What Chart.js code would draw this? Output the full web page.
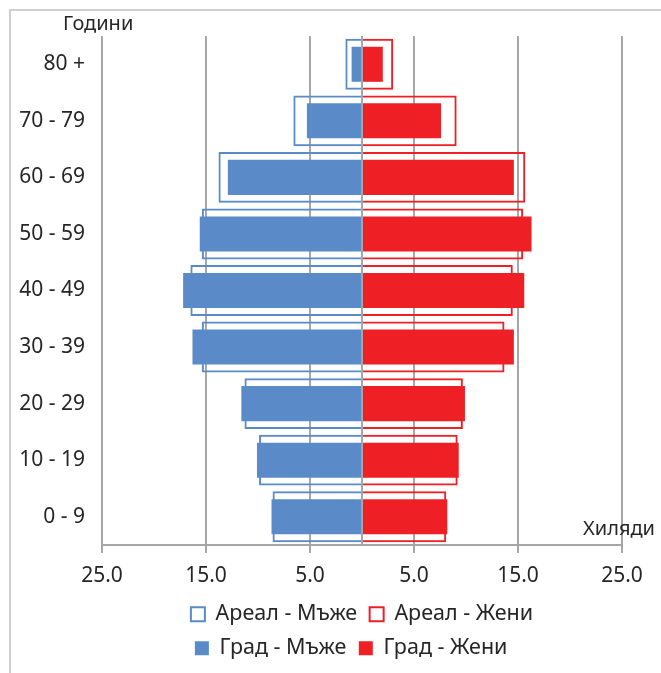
<!DOCTYPE html>
<html>
<head>
<meta charset="utf-8">
<script src="https://cdn.jsdelivr.net/npm/chart.js@4"></script>
<style>
html,body{margin:0;padding:0;background:#fff;overflow:hidden}
canvas{display:block}
</style>
</head>
<body>
<canvas id="c" width="661" height="673"></canvas>
<script>
// ---- data (thousands) ----
const ageGroups = ['80 +', '70 - 79', '60 - 69', '50 - 59', '40 - 49', '30 - 39', '20 - 29', '10 - 19', '0 - 9'];
const areaMen   = [1.6, 6.6, 13.8, 15.4, 16.5, 15.4, 11.3, 9.9, 8.6];
const areaWomen = [3.0, 9.1, 15.7, 15.5, 14.5, 13.7, 9.7, 9.2, 8.1];
const cityMen   = [1.0, 5.3, 12.9, 15.6, 17.2, 16.3, 11.6, 10.1, 8.7];
const cityWomen = [2.0, 7.6, 14.6, 16.3, 15.6, 14.6, 9.9, 9.3, 8.2];
const seriesNames = ['Ареал - Мъже', 'Ареал - Жени', 'Град - Мъже', 'Град - Жени'];
const xMin = -25, xMax = 25, xStep = 10;
const yAxisTitle = 'Години';
const xAxisTitle = 'Хиляди';

// ---- styles ----
const BLUE = '#5A8BC8';
const RED = '#EE1F25';
const GRID = '#A6A6A9';
const TEXT = '#262626';
const FONT = "'Noto Sans', 'DejaVu Sans', sans-serif";
Chart.defaults.font.family = FONT;
Chart.defaults.color = TEXT;

const neg = a => a.map(v => -v);

const extras = {
  id: 'extras',
  afterLayout(chart) {
    // align legend rows to a common left edge (column-like layout)
    const lg = chart.legend;
    if (lg && lg.lineWidths && lg.lineWidths.length > 1) {
      for (let i = 1; i < lg.lineWidths.length; i++) lg.lineWidths[i] = lg.lineWidths[0] - 8;
    }
  },
  beforeDraw(chart) {
    const ctx = chart.ctx;
    ctx.save();
    ctx.fillStyle = '#fff';
    ctx.fillRect(0, 0, chart.width, chart.height);
    ctx.strokeStyle = '#CFCFCF';
    ctx.lineWidth = 2;
    ctx.strokeRect(10, 10, chart.width + 20, chart.height + 20);
    ctx.restore();
  },
  afterDatasetsDraw(chart) {
    const ctx = chart.ctx, a = chart.chartArea;
    const x0 = chart.scales.x.getPixelForValue(0);
    ctx.save();
    ctx.strokeStyle = GRID;
    ctx.lineWidth = 2;
    ctx.beginPath();
    ctx.moveTo(x0, a.top);
    ctx.lineTo(x0, a.bottom);
    ctx.stroke();
    ctx.restore();
  },
  afterDraw(chart) {
    const ctx = chart.ctx, a = chart.chartArea;
    ctx.save();
    ctx.fillStyle = TEXT;
    ctx.font = "20px " + FONT;
    ctx.textBaseline = 'middle';
    ctx.textAlign = 'left';
    ctx.fillText(yAxisTitle, a.left - 39, a.top - 12);
    ctx.textAlign = 'right';
    ctx.fillText(xAxisTitle, a.right + 33, a.bottom - 16);
    ctx.restore();
  }
};

const common = { grouped: false, categoryPercentage: 1 };

new Chart(document.getElementById('c'), {
  type: 'bar',
  data: {
    labels: ageGroups,
    datasets: [
      Object.assign({ label: seriesNames[0], data: neg(areaMen), backgroundColor: 'rgba(255,255,255,0)', borderColor: BLUE, borderWidth: 2, order: 2, barPercentage: 0.9 }, common),
      Object.assign({ label: seriesNames[1], data: areaWomen, backgroundColor: 'rgba(255,255,255,0)', borderColor: RED, borderWidth: 2, order: 2, barPercentage: 0.9 }, common),
      Object.assign({ label: seriesNames[2], data: neg(cityMen), backgroundColor: BLUE, borderWidth: 0, order: 1, barPercentage: 0.62 }, common),
      Object.assign({ label: seriesNames[3], data: cityWomen, backgroundColor: RED, borderWidth: 0, order: 1, barPercentage: 0.62 }, common)
    ]
  },
  options: {
    indexAxis: 'y',
    responsive: false,
    animation: false,
    devicePixelRatio: 1,
    layout: { padding: { left: 0, right: 39, top: 36, bottom: 4 } },
    plugins: {
      legend: {
        position: 'bottom',
        fullSize: false,
        labels: {
          boxWidth: 14, boxHeight: 14, padding: 12.5,
          font: { size: 21.5 }, color: TEXT,
          sort: (a, b) => a.datasetIndex - b.datasetIndex
        }
      },
      tooltip: { enabled: false }
    },
    scales: {
      x: {
        min: xMin, max: xMax,
        ticks: { stepSize: xStep, callback: v => Math.abs(v).toFixed(1), font: { size: 21 }, color: TEXT, padding: 10, maxRotation: 0 },
        grid: { color: GRID, lineWidth: 2, drawTicks: true, tickLength: 8, tickColor: GRID },
        border: { display: true, color: GRID, width: 2 },
        afterFit(s) { s.height = 46; }
      },
      y: {
        grid: { display: false },
        border: { display: false },
        ticks: { font: { size: 21 }, color: TEXT, padding: 9 },
        afterFit(s) { s.width = 102; }
      }
    }
  },
  plugins: [extras]
});
</script>
</body>
</html>
